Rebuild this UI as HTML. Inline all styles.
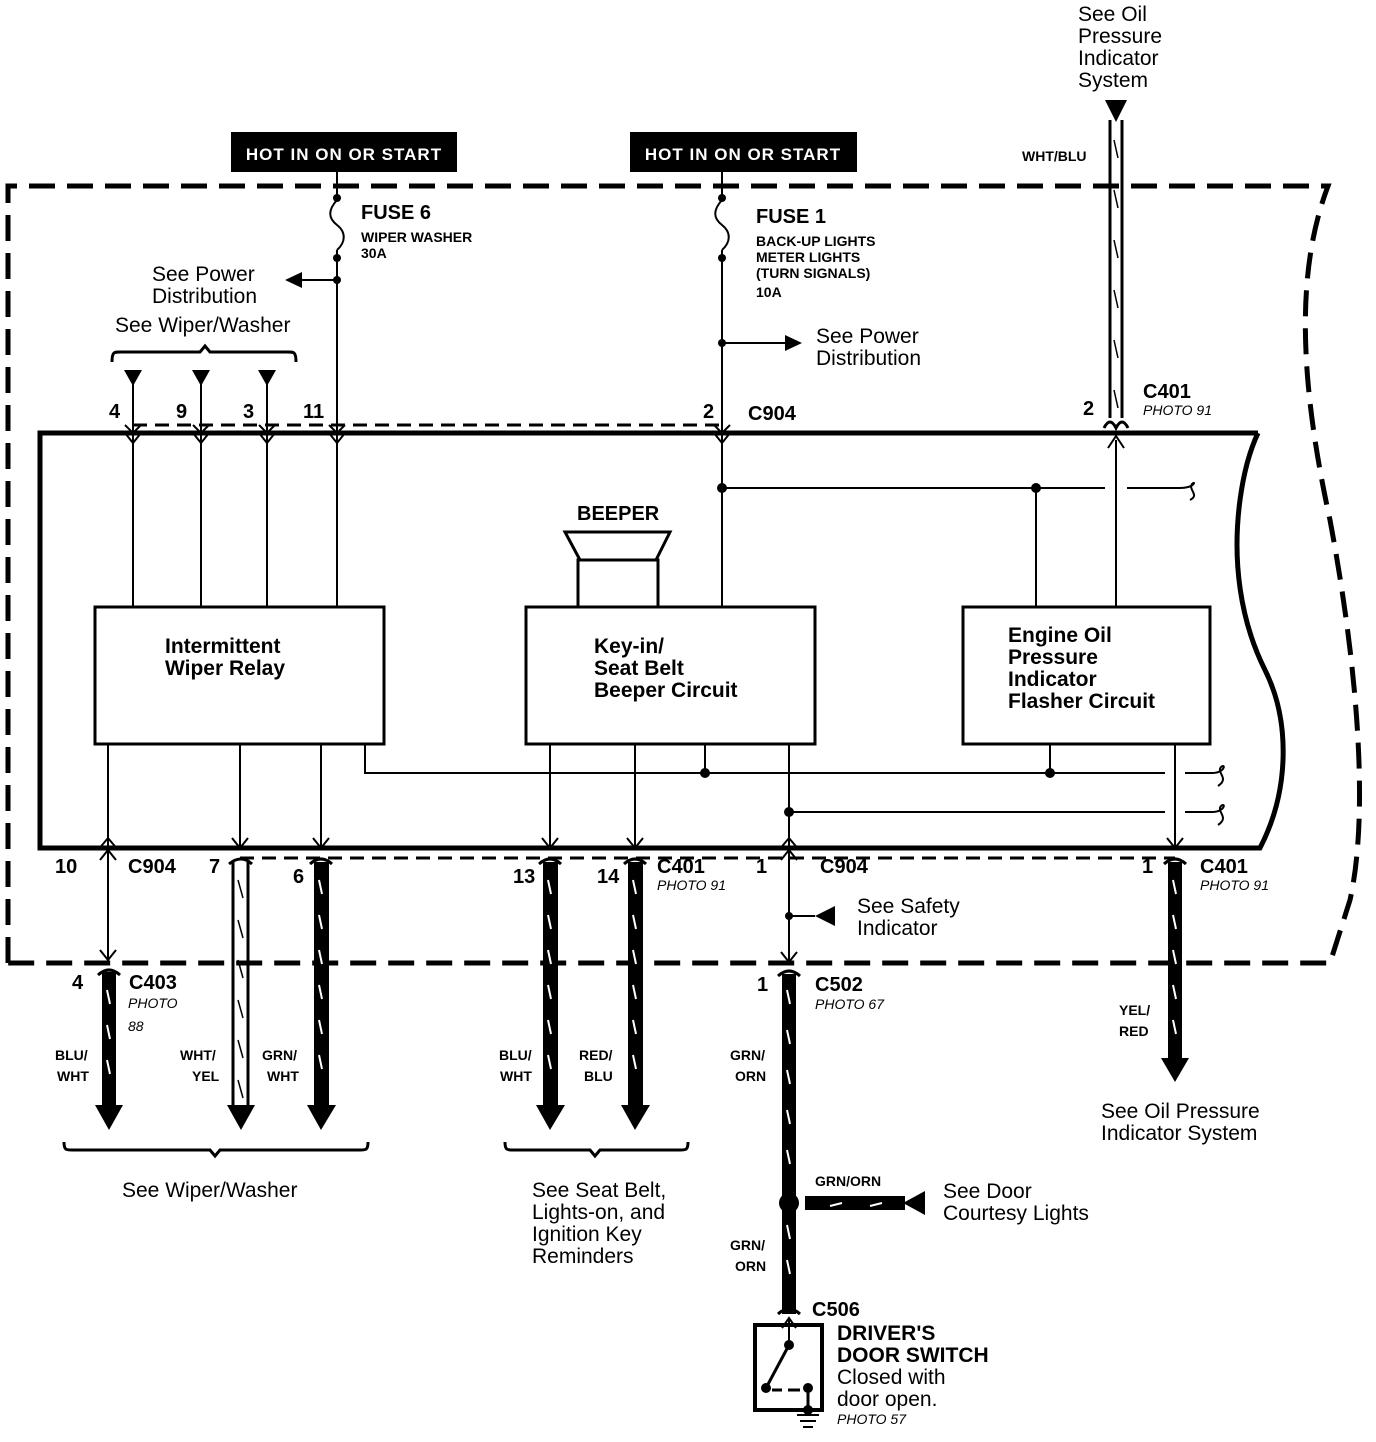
<!DOCTYPE html>
<html><head><style>
html,body{margin:0;padding:0;background:#fff}
svg{display:block}
text{font-family:"Liberation Sans",Arial,sans-serif;fill:#000}
.b{font-weight:bold}
.i{font-style:italic}
</style></head><body>
<svg width="1376" height="1442" viewBox="0 0 1376 1442" xmlns="http://www.w3.org/2000/svg">
<g fill="none" stroke="#000">
<path d="M8,963 L8,186 L1328,186 C1300,260 1295,360 1330,520 C1360,680 1368,820 1350,900 L1330,963 L8,963" stroke-width="5" stroke-dasharray="26,12"/>
<path d="M1258,433 L40,433 L40,848 L1260,848 C1290,790 1290,720 1265,670 C1240,620 1232,560 1240,500 C1244,470 1250,450 1258,433" stroke-width="5"/>
<path d="M133,425 L722,425" stroke-width="3" stroke-dasharray="14,8"/>
<path d="M240,858 L1175,858" stroke-width="3" stroke-dasharray="14,8"/>
<path d="M337,172 L337,200 M337,250 L337,433" stroke-width="2"/>
<path d="M337,200 C328,210 328,218 337,225 C346,232 346,242 337,250" stroke-width="2"/>
<path d="M337,280 L295,280" stroke-width="2"/>
<path d="M722,172 L722,200 M722,250 L722,433" stroke-width="2"/>
<path d="M722,200 C713,210 713,218 722,225 C731,232 731,242 722,250" stroke-width="2"/>
<path d="M722,343 L790,343" stroke-width="2"/>
<path d="M133,375 L133,607 M201,375 L201,607 M267,375 L267,607 M337,433 L337,607 M722,433 L722,607" stroke-width="2"/>
<path d="M125,433 L133,443 L141,433 M193,433 L201,443 L209,433 M259,433 L267,443 L275,433 M329,433 L337,443 L345,433 M714,433 L722,443 L730,433" stroke-width="2"/>
<path d="M125,425 L133,433 L141,425 M193,425 L201,433 L209,425 M259,425 L267,433 L275,425 M329,425 L337,433 L345,425 M714,425 L722,433 L730,425" stroke-width="2"/>
<path d="M112,362 C112,352 114,352 120,352 L200,352 L205,346 L210,352 L288,352 C294,352 296,352 296,362" stroke-width="3"/>
<rect x="95" y="607" width="289" height="137" stroke-width="3"/>
<rect x="526" y="607" width="289" height="137" stroke-width="3"/>
<rect x="963" y="607" width="247" height="137" stroke-width="3"/>
<rect x="578" y="560" width="80" height="47" stroke-width="3"/>
<path d="M565,532 L670,532 L656,560 L580,560 Z" stroke-width="3"/>
<path d="M722,488 L1105,488 M1127,488 L1180,488 M1036,488 L1036,607 M1116,440 L1116,607" stroke-width="2"/>
<path d="M1180,488 C1195,488 1196,480 1192,484 C1188,490 1200,495 1190,500" stroke-width="2"/>
<path d="M1108,448 L1116,436 L1124,448" stroke-width="2"/>
<path d="M365,744 L365,773 L1165,773 M1185,773 L1212,773 M705,744 L705,773 M1050,744 L1050,773" stroke-width="2"/>
<path d="M789,812 L1165,812 M1185,812 L1212,812 M789,744 L789,848" stroke-width="2"/>
<path d="M1212,773 C1225,773 1226,763 1221,767 C1216,773 1230,778 1218,786 M1212,812 C1225,812 1226,802 1221,806 C1216,812 1230,817 1218,825" stroke-width="2"/>
<path d="M1175,744 L1175,848" stroke-width="2"/>
<path d="M1167,838 L1175,848 L1183,838" stroke-width="2"/>
<path d="M108,744 L108,848 M240,744 L240,848 M321,744 L321,848 M550,744 L550,848 M635,744 L635,848" stroke-width="2"/>
<path d="M232,838 L240,848 L248,838 M313,838 L321,848 L329,838 M542,838 L550,848 L558,838 M627,838 L635,848 L643,838" stroke-width="2"/>
<path d="M98,850 L108,838 L118,850 M779,850 L789,838 L799,850" stroke-width="2"/>
<path d="M108,848 L108,960" stroke-width="2"/>
<path d="M100,860 L108,850 L116,860 M100,950 L108,960 L116,950" stroke-width="2"/>
<path d="M789,848 L789,962 M789,916 L815,916" stroke-width="2"/>
<path d="M781,860 L789,850 L797,860 M781,952 L789,962 L797,952" stroke-width="2"/>
<path d="M1110,120 L1110,418 M1122,120 L1122,418" stroke-width="3"/>
<path d="M1104,428 Q1110,416 1116,428 Q1122,416 1128,428" stroke-width="3"/>
</g>
<rect x="231" y="132" width="226" height="40" fill="#000"/>
<text x="344" y="160" font-size="17" text-anchor="middle" style="fill:#fff" class="b" letter-spacing="1">HOT IN ON OR START</text>
<rect x="630" y="132" width="227" height="40" fill="#000"/>
<text x="743" y="160" font-size="17" text-anchor="middle" style="fill:#fff" class="b" letter-spacing="1">HOT IN ON OR START</text>
<g fill="#000">
<circle cx="337" cy="198" r="4"/><circle cx="337" cy="258" r="4"/><circle cx="337" cy="280" r="4"/>
<circle cx="722" cy="198" r="4"/><circle cx="722" cy="258" r="4"/><circle cx="722" cy="343" r="4"/>
<circle cx="722" cy="488" r="5"/><circle cx="1036" cy="488" r="5"/>
<circle cx="705" cy="773" r="5"/><circle cx="1050" cy="773" r="5"/><circle cx="789" cy="812" r="5"/>
<circle cx="789" cy="916" r="4"/>
<path d="M285,280 L302,272 L302,288 Z"/>
<path d="M802,343 L785,335 L785,351 Z"/>
<path d="M124,370 L142,370 L133,386 Z M192,370 L210,370 L201,386 Z M258,370 L276,370 L267,386 Z"/>
<path d="M1105,100 L1127,100 L1116,122 Z"/>
<path d="M815,916 L835,906 L835,926 Z"/>
<rect x="102" y="972" width="14" height="135"/>
<path d="M95,1105 L123,1105 L109,1130 Z"/>
<rect x="314" y="862" width="15" height="245"/>
<path d="M307,1105 L336,1105 L321,1130 Z"/>
<rect x="543" y="862" width="15" height="245"/>
<path d="M536,1105 L565,1105 L550,1130 Z"/>
<rect x="628" y="862" width="15" height="245"/>
<path d="M621,1105 L650,1105 L635,1130 Z"/>
<rect x="1168" y="862" width="14" height="200"/>
<path d="M1161,1058 L1189,1058 L1175,1082 Z"/>
<rect x="782" y="974" width="14" height="340"/>
<circle cx="789" cy="1203" r="10"/>
<rect x="805" y="1196" width="100" height="14"/>
<path d="M903,1203 L925,1191 L925,1215 Z"/>
<path d="M227,1105 L255,1105 L241,1130 Z"/>
</g>
<g fill="none" stroke="#000" stroke-width="3">
<path d="M233,862 L233,1107 M248,862 L248,1107"/>
<path d="M98,975 Q109,965 120,975 M310,864 Q321,854 332,864 M539,864 Q550,854 561,864 M624,864 Q635,854 646,864 M1164,864 Q1175,854 1186,864 M778,976 Q789,966 800,976 M229,864 Q241,854 252,864 M778,1314 Q789,1304 800,1314"/>
</g>
<g stroke="#fff" stroke-width="2">
<path d="M107,990 l3,14 M107,1025 l3,14 M107,1060 l3,14"/>
<path d="M319,880 l3,14 M319,915 l3,14 M319,950 l3,14 M319,985 l3,14 M319,1020 l3,14 M319,1055 l3,14"/>
<path d="M548,880 l3,14 M548,915 l3,14 M548,950 l3,14 M548,985 l3,14 M548,1020 l3,14 M548,1055 l3,14"/>
<path d="M633,880 l3,14 M633,915 l3,14 M633,950 l3,14 M633,985 l3,14 M633,1020 l3,14 M633,1055 l3,14"/>
<path d="M1173,880 l3,14 M1173,915 l3,14 M1173,950 l3,14 M1173,985 l3,14 M1173,1020 l3,14"/>
<path d="M787,990 l3,14 M787,1030 l3,14 M787,1070 l3,14 M787,1110 l3,14 M787,1150 l3,14 M787,1225 l3,14 M787,1260 l3,14"/>
<path d="M830,1206 l12,-3 M870,1206 l12,-3"/>
</g>
<g fill="none" stroke="#000" stroke-width="1.5">
<path d="M238,880 l5,18 M238,920 l5,18 M238,960 l5,18 M238,1000 l5,18 M238,1040 l5,18 M238,1080 l5,18"/>
<path d="M1114,140 l4,18 M1114,190 l4,18 M1114,240 l4,18 M1114,290 l4,18 M1114,340 l4,18 M1114,390 l4,18"/>
<path d="M64,1142 C64,1150 66,1150 72,1150 L210,1150 L215,1156 L220,1150 L360,1150 C366,1150 368,1150 368,1142" stroke-width="3"/>
<path d="M505,1142 C505,1150 507,1150 513,1150 L590,1150 L595,1156 L600,1150 L680,1150 C686,1150 688,1150 688,1142" stroke-width="3"/>
</g>
<g fill="none" stroke="#000">
<rect x="755" y="1325" width="67" height="85" stroke-width="4"/>
<path d="M789,1318 L789,1345 M782,1328 L789,1318 L796,1328" stroke-width="2"/>
<path d="M789,1345 L766,1388 M772,1390 L782,1390 M788,1390 L800,1390 M808,1388 L808,1410" stroke-width="3"/>
<path d="M797,1415 L819,1415 M800,1421 L816,1421 M803,1427 L813,1427" stroke-width="2"/>
</g>
<g fill="#000"><circle cx="789" cy="1345" r="5"/><circle cx="766" cy="1388" r="5"/><circle cx="808" cy="1388" r="5"/><circle cx="808" cy="1410" r="5"/></g>
<g font-size="21">
<text x="1078" y="21">See Oil</text><text x="1078" y="43">Pressure</text><text x="1078" y="65">Indicator</text><text x="1078" y="87">System</text>
<text x="152" y="281">See Power</text><text x="152" y="303">Distribution</text>
<text x="115" y="332">See Wiper/Washer</text>
<text x="816" y="343">See Power</text><text x="816" y="365">Distribution</text>
<text x="857" y="913">See Safety</text><text x="857" y="935">Indicator</text>
<text x="1101" y="1118">See Oil Pressure</text><text x="1101" y="1140">Indicator System</text>
<text x="122" y="1197">See Wiper/Washer</text>
<text x="532" y="1197">See Seat Belt,</text><text x="532" y="1219">Lights-on, and</text><text x="532" y="1241">Ignition Key</text><text x="532" y="1263">Reminders</text>
<text x="943" y="1198">See Door</text><text x="943" y="1220">Courtesy Lights</text>
<text x="837" y="1384">Closed with</text><text x="837" y="1406">door open.</text>
</g>
<g class="b" font-size="20">
<text x="361" y="219">FUSE 6</text><text x="756" y="223">FUSE 1</text>
<text x="748" y="420">C904</text><text x="1143" y="398">C401</text>
<text x="577" y="520">BEEPER</text>
<text x="165" y="653" font-size="21">Intermittent</text><text x="165" y="675" font-size="21">Wiper Relay</text>
<text x="594" y="653" font-size="21">Key-in/</text><text x="594" y="675" font-size="21">Seat Belt</text><text x="594" y="697" font-size="21">Beeper Circuit</text>
<text x="1008" y="642" font-size="21">Engine Oil</text><text x="1008" y="664" font-size="21">Pressure</text><text x="1008" y="686" font-size="21">Indicator</text><text x="1008" y="708" font-size="21">Flasher Circuit</text>
<text x="109" y="418">4</text><text x="176" y="418">9</text><text x="243" y="418">3</text><text x="303" y="418">11</text><text x="703" y="418">2</text><text x="1083" y="415">2</text>
<text x="55" y="873">10</text><text x="128" y="873">C904</text><text x="209" y="873">7</text><text x="293" y="883">6</text>
<text x="513" y="883">13</text><text x="597" y="883">14</text><text x="657" y="873">C401</text>
<text x="756" y="873">1</text><text x="820" y="873">C904</text>
<text x="1142" y="873">1</text><text x="1200" y="873">C401</text>
<text x="72" y="989">4</text><text x="129" y="989">C403</text>
<text x="757" y="991">1</text><text x="815" y="991">C502</text>
<text x="812" y="1316">C506</text>
<text x="837" y="1340" font-size="21">DRIVER'S</text><text x="837" y="1362" font-size="21">DOOR SWITCH</text>
</g>
<g class="b" font-size="14">
<text x="361" y="242">WIPER WASHER</text><text x="361" y="258">30A</text>
<text x="756" y="246">BACK-UP LIGHTS</text><text x="756" y="262">METER LIGHTS</text><text x="756" y="278">(TURN SIGNALS)</text><text x="756" y="297">10A</text>
<text x="1022" y="161">WHT/BLU</text>
<text x="55" y="1060">BLU/</text><text x="57" y="1081">WHT</text>
<text x="180" y="1060">WHT/</text><text x="192" y="1081">YEL</text>
<text x="262" y="1060">GRN/</text><text x="267" y="1081">WHT</text>
<text x="499" y="1060">BLU/</text><text x="500" y="1081">WHT</text>
<text x="579" y="1060">RED/</text><text x="584" y="1081">BLU</text>
<text x="730" y="1060">GRN/</text><text x="735" y="1081">ORN</text>
<text x="1119" y="1015">YEL/</text><text x="1119" y="1036">RED</text>
<text x="815" y="1186">GRN/ORN</text>
<text x="730" y="1250">GRN/</text><text x="735" y="1271">ORN</text>
</g>
<g class="i" font-size="14">
<text x="1143" y="415">PHOTO 91</text>
<text x="657" y="890">PHOTO 91</text>
<text x="1200" y="890">PHOTO 91</text>
<text x="128" y="1008">PHOTO</text><text x="128" y="1031">88</text>
<text x="815" y="1009">PHOTO 67</text>
<text x="837" y="1424">PHOTO 57</text>
</g>
</svg>
</body></html>
